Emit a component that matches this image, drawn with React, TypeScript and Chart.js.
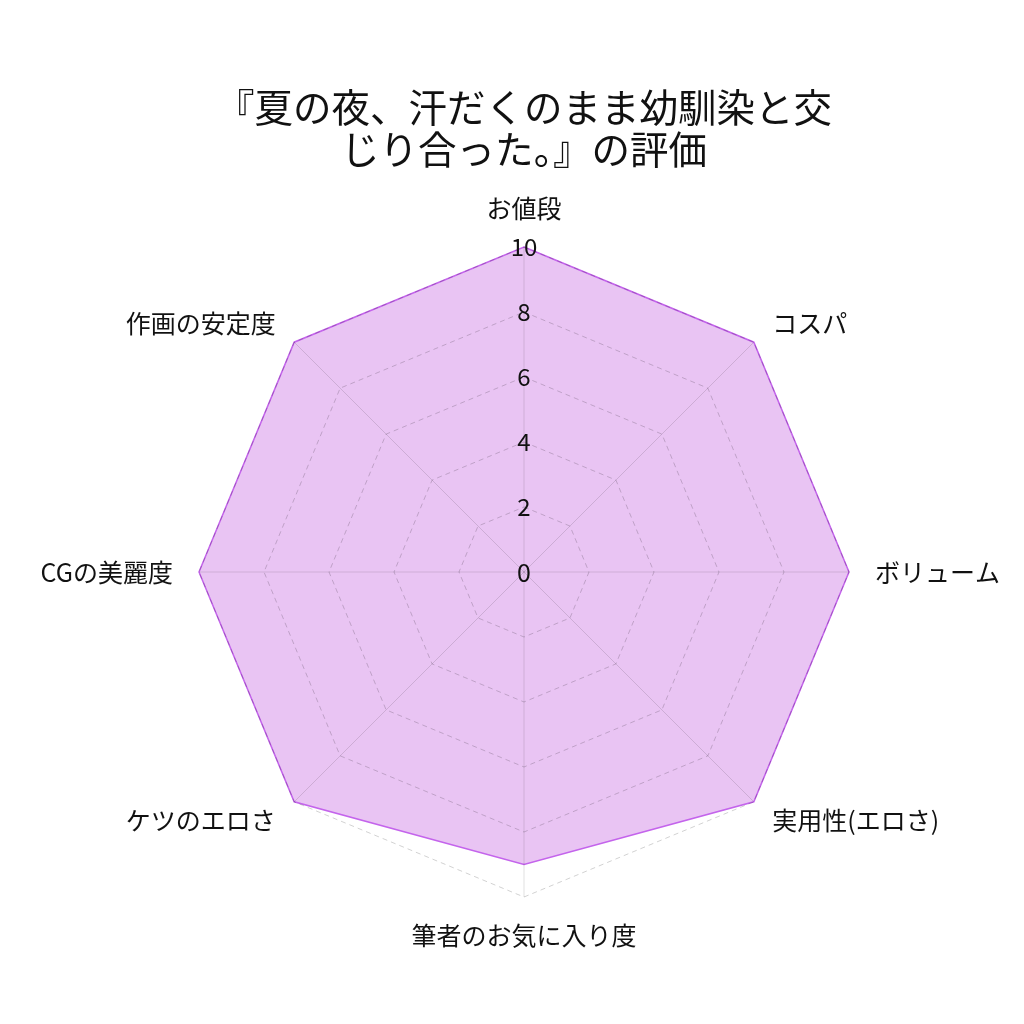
import React, { useEffect, useRef } from "react";
import { Chart, registerables } from "chart.js";

Chart.register(...registerables);

const categories = [
  "お値段",
  "コスパ",
  "ボリューム",
  "実用性(エロさ)",
  "筆者のお気に入り度",
  "ケツのエロさ",
  "CGの美麗度",
  "作画の安定度",
];
const scores = [10, 10, 10, 10, 9, 10, 10, 10];
const titleLines = ["『夏の夜、汗だくのまま幼馴染と交", "じり合った。』の評価"];

const FONT = "'Noto Sans CJK JP', 'Noto Sans', sans-serif";

const labelsPlugin = {
  id: "labelsPlugin",
  afterDatasetsDraw(chart: any) {
    const r = chart.scales.r;
    if (!r) return;
    const ctx = chart.ctx;
    ctx.save();
    ctx.font = `25px ${FONT}`;
    ctx.fillStyle = "#111";
    // zero tick label (Chart.js skips it)
    const c = r.getPointPositionForValue(0, r.min);
    ctx.textAlign = "center";
    ctx.textBaseline = "middle";
    ctx.fillText("0", c.x, c.y);
    // category labels
    const labels = chart.data.labels as string[];
    labels.forEach((lab, i) => {
      const p = r.getPointPosition(i, r.drawingArea + 26);
      const dx = p.x - r.xCenter;
      const dy = p.y - r.yCenter;
      ctx.textAlign = Math.abs(dx) < 1 ? "center" : dx > 0 ? "left" : "right";
      if (Math.abs(dx) < 1) {
        ctx.textBaseline = dy < 0 ? "bottom" : "top";
      } else {
        ctx.textBaseline = "middle";
      }
      ctx.fillText(lab, p.x, p.y);
    });
    ctx.restore();
  },
};

export default function App() {
  const ref = useRef<HTMLCanvasElement>(null);
  useEffect(() => {
    if (!ref.current) return;
    const chart = new Chart(ref.current, {
      type: "radar",
      data: {
        labels: categories,
        datasets: [
          {
            data: scores,
            backgroundColor: "rgba(191,85,221,0.35)",
            borderColor: "rgb(196,100,236)",
            borderWidth: 1.5,
            pointRadius: 0,
            fill: true,
          },
        ],
      },
      plugins: [labelsPlugin],
      options: {
        animation: false,
        responsive: false,
        maintainAspectRatio: false,
        layout: { padding: { top: 22, left: 185, right: 161, bottom: 112 } },
        plugins: {
          legend: { display: false },
          tooltip: { enabled: false },
          title: {
            display: true,
            text: titleLines,
            color: "#111",
            font: { family: FONT, size: 38.5, weight: "normal", lineHeight: 1.1 },
            padding: { top: 64, bottom: 63 },
          },
        },
        scales: {
          r: {
            min: 0,
            max: 10,
            ticks: {
              stepSize: 2,
              showLabelBackdrop: false,
              color: "#111",
              font: { family: FONT, size: 24 },
              z: 1,
            },
            grid: {
              color: "rgba(0,0,0,0.18)",
              borderDash: [5, 4],
              lineWidth: 1,
              z: 1,
            },
            border: { dash: [5, 4] },
            angleLines: { color: "rgba(0,0,0,0.12)", lineWidth: 1 },
            pointLabels: { display: false },
          },
        },
      },
    });
    return () => chart.destroy();
  }, []);
  return (
    <div style={{ position: "absolute", left: 0, top: 0, width: 1024, height: 1024, background: "#fff" }}>
      <canvas ref={ref} width={1024} height={1024} style={{ width: 1024, height: 1024 }} />
    </div>
  );
}
